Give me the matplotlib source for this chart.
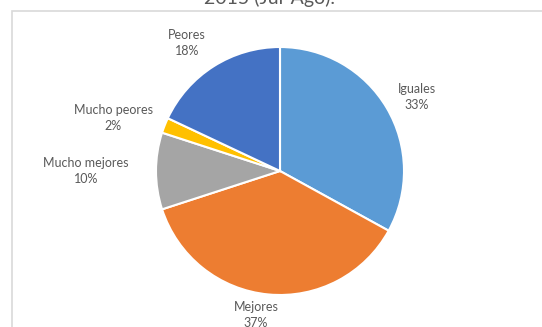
import numpy as np
import matplotlib
matplotlib.use("Agg")
import matplotlib.pyplot as plt
from matplotlib.patches import Rectangle

# answers, clockwise from 12 o'clock
CATEGORIES = ["Iguales", "Mejores", "Mucho mejores", "Mucho peores", "Peores"]
PERCENTS = [33, 37, 10, 2, 18]
COLORS = ["#5B9BD5", "#ED7D31", "#A5A5A5", "#FFC000", "#4472C4"]
TITLE = "2015 (Jul-Ago)."

W, H = 542, 327
CENTER = (280, H - 171)
RADIUS = 124
# label block centres (pixel coords from top-left)
LABEL_POS = [(417, 97), (256, 315), (86, 171), (113, 118), (187, 43)]
TEXT_GREY = "#595959"

plt.rcParams["font.family"] = ["Lato", "DejaVu Sans"]

fig = plt.figure(figsize=(W / 100, H / 100), dpi=100)
ax = fig.add_axes([0, 0, 1, 1])
ax.set_xlim(0, W)
ax.set_ylim(0, H)
ax.set_aspect("equal")
ax.axis("off")

# chart area frame (only top and left edges fall inside the image)
ax.add_patch(Rectangle((11.5, -10), W + 50, H - 10.5 + 10, fill=False,
                       edgecolor="#D9D9D9", linewidth=1.2))

ax.pie(PERCENTS, colors=COLORS, startangle=90, counterclock=False,
       center=CENTER, radius=RADIUS,
       wedgeprops=dict(edgecolor="white", linewidth=1.5))
ax.set_xlim(0, W)
ax.set_ylim(0, H)

for cat, pct, (px, py) in zip(CATEGORIES, PERCENTS, LABEL_POS):
    ax.text(px, H - py, f"{cat}\n{pct}%", ha="center", va="center",
            fontsize=9, color=TEXT_GREY, linespacing=1.4)

ax.text(269, H - 4, TITLE, ha="center", va="baseline", fontsize=14,
        color=TEXT_GREY)

fig.savefig("out.png", dpi=100)
plt.close(fig)
